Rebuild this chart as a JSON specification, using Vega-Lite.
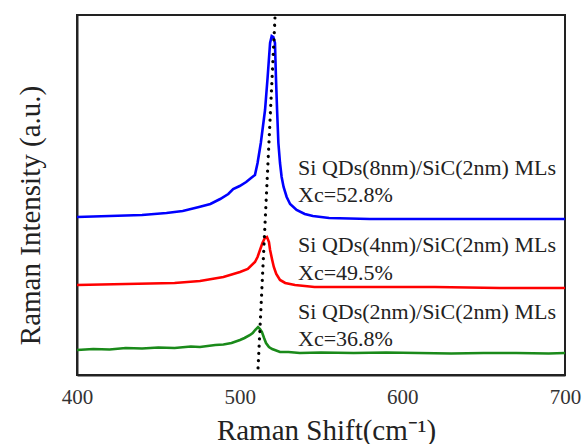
{
  "$schema": "https://vega.github.io/schema/vega-lite/v6.json",
  "width": 488,
  "height": 360,
  "autosize": {"type": "none"},
  "padding": {"left": 77, "top": 15, "right": 17, "bottom": 69},
  "background": "white",
  "config": {
    "font": "Liberation Serif",
    "view": {"stroke": "#222", "strokeWidth": 2}
  },
  "datasets": {
    "spectra": [
      {"series": "8nm", "x": 400, "y": 158}, {"series": "8nm", "x": 420, "y": 159}, {"series": "8nm", "x": 440, "y": 160}, {"series": "8nm", "x": 455, "y": 162}, {"series": "8nm", "x": 465, "y": 164}, {"series": "8nm", "x": 475, "y": 168}, {"series": "8nm", "x": 482, "y": 171}, {"series": "8nm", "x": 488, "y": 176}, {"series": "8nm", "x": 493, "y": 181}, {"series": "8nm", "x": 496, "y": 186}, {"series": "8nm", "x": 500, "y": 189}, {"series": "8nm", "x": 504, "y": 193}, {"series": "8nm", "x": 507, "y": 197}, {"series": "8nm", "x": 509.4, "y": 200}, {"series": "8nm", "x": 511, "y": 212}, {"series": "8nm", "x": 513, "y": 232}, {"series": "8nm", "x": 515.6, "y": 265}, {"series": "8nm", "x": 517.2, "y": 298}, {"series": "8nm", "x": 518.7, "y": 332}, {"series": "8nm", "x": 519.7, "y": 339}, {"series": "8nm", "x": 520.7, "y": 338}, {"series": "8nm", "x": 521.7, "y": 332}, {"series": "8nm", "x": 522.3, "y": 298}, {"series": "8nm", "x": 523, "y": 265}, {"series": "8nm", "x": 523.8, "y": 232}, {"series": "8nm", "x": 524.8, "y": 212}, {"series": "8nm", "x": 525.8, "y": 198}, {"series": "8nm", "x": 527, "y": 188}, {"series": "8nm", "x": 528.9, "y": 178}, {"series": "8nm", "x": 531, "y": 171}, {"series": "8nm", "x": 535, "y": 165}, {"series": "8nm", "x": 540, "y": 161}, {"series": "8nm", "x": 545, "y": 159}, {"series": "8nm", "x": 555, "y": 157}, {"series": "8nm", "x": 580, "y": 156}, {"series": "8nm", "x": 620, "y": 156}, {"series": "8nm", "x": 660, "y": 156}, {"series": "8nm", "x": 700, "y": 156},
      {"series": "4nm", "x": 400, "y": 90}, {"series": "4nm", "x": 430, "y": 91}, {"series": "4nm", "x": 460, "y": 92}, {"series": "4nm", "x": 475.6, "y": 94}, {"series": "4nm", "x": 490, "y": 98}, {"series": "4nm", "x": 500.2, "y": 103}, {"series": "4nm", "x": 505, "y": 106}, {"series": "4nm", "x": 509.4, "y": 113}, {"series": "4nm", "x": 511, "y": 118}, {"series": "4nm", "x": 512.5, "y": 125}, {"series": "4nm", "x": 514, "y": 132}, {"series": "4nm", "x": 515.5, "y": 137}, {"series": "4nm", "x": 516.8, "y": 138}, {"series": "4nm", "x": 518, "y": 133}, {"series": "4nm", "x": 518.7, "y": 125}, {"series": "4nm", "x": 520, "y": 115}, {"series": "4nm", "x": 521, "y": 108}, {"series": "4nm", "x": 522.5, "y": 101}, {"series": "4nm", "x": 524.8, "y": 95}, {"series": "4nm", "x": 528, "y": 92}, {"series": "4nm", "x": 534, "y": 90}, {"series": "4nm", "x": 546, "y": 88}, {"series": "4nm", "x": 580, "y": 88}, {"series": "4nm", "x": 620, "y": 88}, {"series": "4nm", "x": 660, "y": 87}, {"series": "4nm", "x": 700, "y": 87},
      {"series": "2nm", "x": 400, "y": 25}, {"series": "2nm", "x": 410, "y": 26}, {"series": "2nm", "x": 420, "y": 25.5}, {"series": "2nm", "x": 430, "y": 27}, {"series": "2nm", "x": 440, "y": 26.5}, {"series": "2nm", "x": 450, "y": 27.5}, {"series": "2nm", "x": 460, "y": 27}, {"series": "2nm", "x": 470, "y": 28.5}, {"series": "2nm", "x": 475.6, "y": 28}, {"series": "2nm", "x": 485, "y": 30}, {"series": "2nm", "x": 490, "y": 30.5}, {"series": "2nm", "x": 495, "y": 32}, {"series": "2nm", "x": 500.2, "y": 35}, {"series": "2nm", "x": 503, "y": 37}, {"series": "2nm", "x": 506.4, "y": 40}, {"series": "2nm", "x": 508, "y": 42}, {"series": "2nm", "x": 509.5, "y": 45}, {"series": "2nm", "x": 511.3, "y": 48}, {"series": "2nm", "x": 512.5, "y": 46}, {"series": "2nm", "x": 513.7, "y": 43}, {"series": "2nm", "x": 515, "y": 37}, {"series": "2nm", "x": 516.2, "y": 32}, {"series": "2nm", "x": 518, "y": 28}, {"series": "2nm", "x": 520, "y": 26}, {"series": "2nm", "x": 524.8, "y": 23}, {"series": "2nm", "x": 530, "y": 23}, {"series": "2nm", "x": 537, "y": 22}, {"series": "2nm", "x": 550, "y": 22.5}, {"series": "2nm", "x": 570, "y": 22}, {"series": "2nm", "x": 590, "y": 22.5}, {"series": "2nm", "x": 610, "y": 22}, {"series": "2nm", "x": 630, "y": 21.5}, {"series": "2nm", "x": 650, "y": 22}, {"series": "2nm", "x": 670, "y": 22}, {"series": "2nm", "x": 690, "y": 21.5}, {"series": "2nm", "x": 700, "y": 22}
    ],
    "guide": [
      {"x": 511.3, "y": 7}, {"x": 521.7, "y": 357}
    ],
    "majorTicks": [{"x": 400}, {"x": 500}, {"x": 600}, {"x": 700}],
    "minorTicks": [{"x": 450}, {"x": 550}, {"x": 650}],
    "labels": [
      {"x": 535.9, "y": 200, "text": "Si QDs(8nm)/SiC(2nm) MLs"},
      {"x": 535.9, "y": 173, "text": "Xc=52.8%"},
      {"x": 535.9, "y": 123, "text": "Si QDs(4nm)/SiC(2nm) MLs"},
      {"x": 535.9, "y": 95, "text": "Xc=49.5%"},
      {"x": 535.9, "y": 56, "text": "Si QDs(2nm)/SiC(2nm) MLs"},
      {"x": 535.9, "y": 29, "text": "Xc=36.8%"}
    ]
  },
  "encoding": {
    "x": {
      "field": "x", "type": "quantitative",
      "scale": {"domain": [400, 700], "nice": false, "zero": false},
      "axis": {
        "title": "Raman Shift(cm⁻¹)",
        "values": [400, 500, 600, 700],
        "labelFont": "Liberation Serif", "labelFontSize": 21, "labelColor": "#333",
        "labelPadding": 11, "labelFlush": false,
        "ticks": false,
        "domainColor": "#222", "domainWidth": 2,
        "grid": false,
        "titleFont": "Liberation Serif", "titleFontSize": 29, "titleFontWeight": "normal", "titleColor": "#222",
        "titleX": 249, "titleY": 64, "titleBaseline": "alphabetic", "titleAlign": "center"
      }
    },
    "y": {
      "field": "y", "type": "quantitative",
      "scale": {"domain": [0, 360], "nice": false, "zero": false},
      "axis": {
        "title": "Raman Intensity (a.u.)",
        "ticks": false, "labels": false, "grid": false,
        "domainColor": "#222", "domainWidth": 2,
        "titleFont": "Liberation Serif", "titleFontSize": 29, "titleFontWeight": "normal", "titleColor": "#222",
        "titleX": -47, "titleY": 200, "titleAngle": -90, "titleBaseline": "middle", "titleAlign": "center"
      }
    }
  },
  "layer": [
    {
      "data": {"name": "spectra"},
      "mark": {"type": "line", "strokeWidth": 2.6},
      "encoding": {
        "color": {
          "field": "series", "type": "nominal",
          "scale": {"domain": ["8nm", "4nm", "2nm"], "range": ["#0000ff", "#ff0000", "#1a8a1a"]},
          "legend": null
        }
      }
    },
    {
      "data": {"name": "guide"},
      "mark": {"type": "line", "color": "black", "strokeWidth": 3.2, "strokeDash": [0.1, 7.2], "strokeCap": "round"},
      "encoding": {}
    },
    {
      "data": {"name": "majorTicks"},
      "mark": {"type": "tick", "orient": "vertical", "size": 8, "thickness": 1.5, "color": "#222", "opacity": 1, "yOffset": -4},
      "encoding": {"y": {"datum": 0}}
    },
    {
      "data": {"name": "minorTicks"},
      "mark": {"type": "tick", "orient": "vertical", "size": 4, "thickness": 1.5, "color": "#222", "opacity": 1, "yOffset": -2},
      "encoding": {"y": {"datum": 0}}
    },
    {
      "data": {"name": "labels"},
      "mark": {"type": "text", "align": "left", "baseline": "alphabetic", "font": "Liberation Serif", "fontSize": 22, "color": "#222"},
      "encoding": {"text": {"field": "text"}}
    }
  ]
}
